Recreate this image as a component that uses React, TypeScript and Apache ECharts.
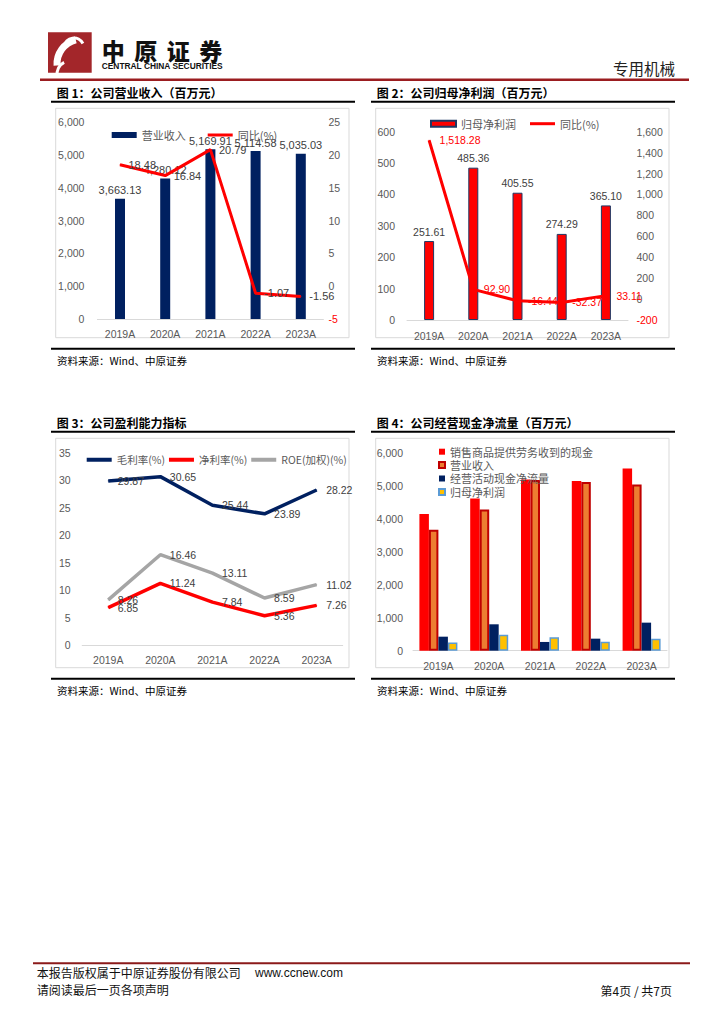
import React, { useEffect, useRef } from "react";
import * as echarts from "echarts";

// ---------- data ----------
const years = ["2019A", "2020A", "2021A", "2022A", "2023A"];
const revenue = [3663.13, 4280.12, 5169.91, 5114.58, 5035.03];
const revenueYoY = [18.48, 16.84, 20.79, -1.07, -1.56];
const netProfit = [251.61, 485.36, 405.55, 274.29, 365.1];
const netProfitYoY = [1518.28, 92.9, -16.44, -32.37, 33.11];
const grossMargin = [29.87, 30.65, 25.44, 23.89, 28.22];
const netMargin = [6.85, 11.24, 7.84, 5.36, 7.26];
const roe = [8.26, 16.46, 13.11, 8.59, 11.02];
const cashFromSales = [4140, 4615, 5190, 5140, 5525];
const operatingCashFlow = [425, 800, 265, 365, 850];

const chartTitles = [
  "图 1：公司营业收入（百万元）",
  "图 2：公司归母净利润（百万元）",
  "图 3：公司盈利能力指标",
  "图 4：公司经营现金净流量（百万元）",
];
const sourceText = "资料来源：Wind、中原证券";

// ---------- styles ----------
const CJK = '"Noto Sans CJK SC", "Noto Sans", sans-serif';
const NUM = '"Liberation Sans", Arial, sans-serif';
const AXIS_GRAY = "#595959";
const LABEL_GRAY = "#404040";
const NAVY = "#002060";
const RED = "#ff0000";
const LINE3 = "path://M0,0H25V3H0Z";
const LINE4 = "path://M0,0H25V4H0Z";

const fmtInt = (v: number) => v.toLocaleString("en-US");
const fmt2 = (v: number) =>
  v.toLocaleString("en-US", { minimumFractionDigits: 2, maximumFractionDigits: 2 });
const negFmt = (v: number) => (v < 0 ? `{neg|${fmtInt(v)}}` : fmtInt(v));

const catAxis = (margin: number) => ({
  type: "category",
  data: years,
  axisLine: { lineStyle: { color: "#d9d9d9", width: 1 } },
  axisTick: { show: false },
  axisLabel: { color: AXIS_GRAY, fontFamily: NUM, fontSize: 10.5, margin },
});

const valAxis = (min: number, max: number, interval: number, margin: number, extra: any = {}) => ({
  type: "value",
  min,
  max,
  interval,
  splitLine: { show: false },
  axisLine: { show: false },
  axisTick: { show: false },
  axisLabel: {
    color: AXIS_GRAY,
    fontFamily: NUM,
    fontSize: 10.5,
    margin,
    formatter: negFmt,
    rich: { neg: { color: RED, fontFamily: NUM, fontSize: 10.5 } },
  },
  ...extra,
});

const legendText = { fontFamily: CJK, fontSize: 11, color: AXIS_GRAY };

const lineSeries = (name: string, data: number[], color: string, width: number, label: any, extra: any = {}) => ({
  type: "line",
  name,
  data,
  symbol: "circle",
  symbolSize: 1,
  showSymbol: true,
  lineStyle: { color, width },
  itemStyle: { color },
  label,
  z: 3,
  ...extra,
});

// ---------- chart options ----------
const option1 = {
  animation: false,
  legend: {
    left: 106.7,
    top: 124.5,
    itemWidth: 25,
    itemHeight: 6,
    itemGap: 22,
    textStyle: legendText,
    data: [
      { name: "营业收入", icon: "rect" },
      { name: "同比(%)", icon: LINE3 },
    ],
  },
  grid: { left: 97.4, top: 122, width: 226, height: 197 },
  xAxis: catAxis(9.5),
  yAxis: [
    valAxis(0, 6000, 1000, 13),
    valAxis(-5, 25, 5, 5, { position: "right" }),
  ],
  series: [
    {
      type: "bar",
      name: "营业收入",
      data: revenue,
      barWidth: 10,
      itemStyle: { color: NAVY },
      label: {
        show: true,
        position: "top",
        distance: 3,
        color: LABEL_GRAY,
        fontFamily: NUM,
        fontSize: 11,
        formatter: (p: any) => fmt2(p.value),
      },
    },
    lineSeries(
      "同比(%)",
      revenueYoY,
      RED,
      3,
      {
        show: true,
        position: "right",
        distance: 8,
        color: LABEL_GRAY,
        fontFamily: NUM,
        fontSize: 11,
        formatter: (p: any) => fmt2(p.value),
      },
      { yAxisIndex: 1 }
    ),
  ],
};

const option2 = {
  animation: false,
  legend: {
    left: 425,
    top: 113.2,
    itemWidth: 25,
    itemHeight: 6,
    itemGap: 14,
    textStyle: legendText,
    data: [
      { name: "归母净利润", icon: "rect" },
      { name: "同比(%)", icon: LINE3 },
    ],
  },
  grid: { left: 407, top: 131.7, width: 221, height: 188.3 },
  xAxis: catAxis(10),
  yAxis: [
    valAxis(0, 600, 100, 12),
    valAxis(-200, 1600, 200, 8.5, { position: "right" }),
  ],
  series: [
    {
      type: "bar",
      name: "归母净利润",
      data: netProfit,
      barWidth: 10,
      itemStyle: { color: RED, borderColor: "#1f3864", borderWidth: 1 },
      label: {
        show: true,
        position: "top",
        distance: 4,
        color: LABEL_GRAY,
        fontFamily: NUM,
        fontSize: 10.5,
        formatter: (p: any) => fmt2(p.value),
      },
    },
    lineSeries(
      "同比(%)",
      netProfitYoY,
      RED,
      3,
      {
        show: true,
        position: "right",
        distance: 10,
        color: RED,
        fontFamily: NUM,
        fontSize: 10.5,
        formatter: (p: any) => fmt2(p.value),
      },
      { yAxisIndex: 1 }
    ),
  ],
};

const lineLabel = {
  show: true,
  position: "right",
  distance: 9,
  color: LABEL_GRAY,
  fontFamily: NUM,
  fontSize: 10.5,
  formatter: (p: any) => fmt2(p.value),
};

const option3 = {
  animation: false,
  legend: {
    left: 81.7,
    top: 449.5,
    itemWidth: 25,
    itemHeight: 6,
    itemGap: 4,
    textStyle: { ...legendText, fontSize: 10.5 },
    data: [
      { name: "毛利率(%)", icon: LINE4 },
      { name: "净利率(%)", icon: LINE4 },
      { name: "ROE(加权)(%)", icon: LINE4 },
    ],
  },
  grid: { left: 82.2, top: 452.7, width: 260.5, height: 192.6 },
  xAxis: catAxis(8.7),
  yAxis: valAxis(0, 35, 5, 11.5),
  series: [
    lineSeries("毛利率(%)", grossMargin, NAVY, 3.5, lineLabel),
    lineSeries("净利率(%)", netMargin, RED, 3.5, lineLabel),
    lineSeries("ROE(加权)(%)", roe, "#a5a5a5", 3.5, lineLabel),
  ],
};

const option4 = {
  animation: false,
  legend: {
    orient: "vertical",
    left: 433,
    top: 441.2,
    itemWidth: 6,
    itemHeight: 6,
    itemGap: 2.4,
    icon: "rect",
    textStyle: legendText,
    data: ["销售商品提供劳务收到的现金", "营业收入", "经营活动现金净流量", "归母净利润"],
  },
  grid: { left: 413, top: 452.7, width: 254, height: 198 },
  xAxis: catAxis(10),
  yAxis: valAxis(0, 6000, 1000, 10),
  series: [
    {
      type: "bar",
      name: "销售商品提供劳务收到的现金",
      data: cashFromSales,
      barWidth: 9.5,
      barGap: "0%",
      itemStyle: { color: RED },
    },
    {
      type: "bar",
      name: "营业收入",
      data: revenue,
      barWidth: 9.5,
      barGap: "0%",
      itemStyle: { color: "#ed7d31", borderColor: "#c00000", borderWidth: 2 },
    },
    {
      type: "bar",
      name: "经营活动现金净流量",
      data: operatingCashFlow,
      barWidth: 9.5,
      barGap: "0%",
      itemStyle: { color: NAVY },
    },
    {
      type: "bar",
      name: "归母净利润",
      data: netProfit,
      barWidth: 9.5,
      barGap: "0%",
      itemStyle: { color: "#ffc000", borderColor: "#5b9bd5", borderWidth: 1.5 },
    },
  ],
};

// ---------- page decoration ----------
function panelGraphics(idx: number, ox: number, oy: number) {
  return [
    {
      type: "text",
      x: 56.7 + ox,
      y: 92.3 + oy,
      style: {
        text: chartTitles[idx],
        fill: "#000",
        font: `bold 12px ${CJK}`,
        verticalAlign: "middle",
      },
    },
    {
      type: "line",
      shape: { x1: 51 + ox, y1: 101.7 + oy, x2: 355 + ox, y2: 101.7 + oy },
      style: { stroke: "#000", lineWidth: 2 },
    },
    {
      type: "rect",
      shape: { x: 55.7 + ox, y: 108.3 + oy, width: 293.3, height: 229.4 },
      style: { fill: "#fff", stroke: "#d9d9d9", lineWidth: 1 },
    },
    {
      type: "line",
      shape: { x1: 51 + ox, y1: 348.8 + oy, x2: 355 + ox, y2: 348.8 + oy },
      style: { stroke: "#000", lineWidth: 2 },
    },
    {
      type: "text",
      x: 57 + ox,
      y: 360.5 + oy,
      style: {
        text: sourceText,
        fill: "#000",
        font: `10.5px ${CJK}`,
        verticalAlign: "middle",
      },
    },
  ];
}

const brandChars = ["中", "原", "证", "券"];

const bgOption = {
  animation: false,
  graphic: [
    // logo
    { type: "rect", shape: { x: 48, y: 32.3, width: 43.7, height: 40.4 }, style: { fill: "#a3262a" } },
    {
      type: "arc",
      shape: { cx: 82, cy: 64, r: 25, startAngle: Math.PI * 0.98, endAngle: Math.PI * 1.42, clockwise: true },
      style: { stroke: "#fff", lineWidth: 7, fill: null },
    },
    {
      type: "arc",
      shape: { cx: 74, cy: 48, r: 10, startAngle: Math.PI * 1.05, endAngle: Math.PI * 1.85, clockwise: true },
      style: { stroke: "#fff", lineWidth: 3, fill: null },
    },
    {
      type: "arc",
      shape: { cx: 70, cy: 74, r: 13, startAngle: Math.PI * 0.95, endAngle: Math.PI * 1.35, clockwise: true },
      style: { stroke: "#fff", lineWidth: 3, fill: null },
    },
    ...brandChars.map((c, i) => ({
      type: "text",
      x: 101.7 + i * 32.5,
      y: 49.5,
      style: { text: c, fill: "#111", font: `900 23px ${CJK}`, verticalAlign: "middle" },
    })),
    {
      type: "text",
      x: 101.7,
      y: 66.3,
      style: {
        text: "CENTRAL CHINA SECURITIES",
        fill: "#111",
        font: `bold 8.4px ${NUM}`,
        verticalAlign: "middle",
      },
    },
    {
      type: "text",
      x: 675,
      y: 67.5,
      style: { text: "专用机械", fill: "#222", font: `15.5px ${CJK}`, align: "right", verticalAlign: "middle" },
    },
    {
      type: "line",
      shape: { x1: 40, y1: 79.7, x2: 689, y2: 79.7 },
      style: { stroke: "#9b1d20", lineWidth: 2.5 },
    },
    ...panelGraphics(0, 0, 0),
    ...panelGraphics(1, 320, 0),
    ...panelGraphics(2, 0, 330),
    ...panelGraphics(3, 320, 330),
    // footer
    {
      type: "line",
      shape: { x1: 33, y1: 963.3, x2: 690, y2: 963.3 },
      style: { stroke: "#8b1a1a", lineWidth: 2 },
    },
    {
      type: "text",
      x: 36.7,
      y: 972.5,
      style: { text: "本报告版权属于中原证券股份有限公司", fill: "#111", font: `12px ${CJK}`, verticalAlign: "middle" },
    },
    {
      type: "text",
      x: 255,
      y: 972.5,
      style: { text: "www.ccnew.com", fill: "#111", font: `12px ${NUM}`, verticalAlign: "middle" },
    },
    {
      type: "text",
      x: 36.7,
      y: 989,
      style: { text: "请阅读最后一页各项声明", fill: "#111", font: `12px ${CJK}`, verticalAlign: "middle" },
    },
    {
      type: "text",
      x: 672,
      y: 990,
      style: { text: "第4页 / 共7页", fill: "#111", font: `12px ${CJK}`, align: "right", verticalAlign: "middle" },
    },
  ],
};

// ---------- components ----------
function Chart({ option }: { option: any }) {
  const ref = useRef<HTMLDivElement>(null);
  useEffect(() => {
    const chart = echarts.init(ref.current!, null, { renderer: "svg" });
    chart.setOption(option);
    return () => chart.dispose();
  }, [option]);
  return (
    <div
      ref={ref}
      style={{ position: "absolute", left: 0, top: 0, width: 724, height: 1024 }}
    />
  );
}

export default function App() {
  return (
    <div
      style={{
        position: "absolute",
        left: 0,
        top: 0,
        width: 724,
        height: 1024,
        background: "#fff",
        overflow: "hidden",
      }}
    >
      <Chart option={bgOption} />
      <Chart option={option1} />
      <Chart option={option2} />
      <Chart option={option3} />
      <Chart option={option4} />
    </div>
  );
}
